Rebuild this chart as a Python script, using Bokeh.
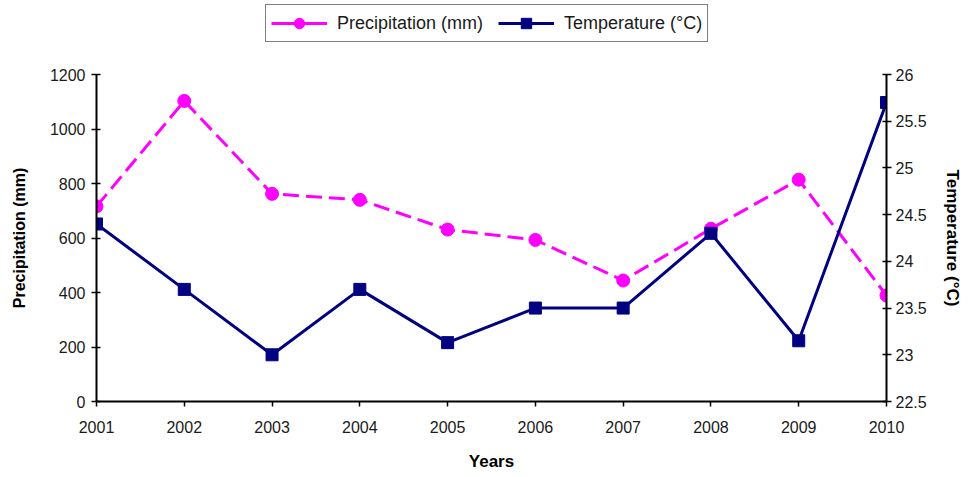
from bokeh.plotting import figure
from bokeh.layouts import column
from bokeh.models import Range1d, LinearAxis, Legend, LegendItem, FixedTicker, NumeralTickFormatter
from bokeh.embed import file_html
from bokeh.resources import INLINE

years = [2001, 2002, 2003, 2004, 2005, 2006, 2007, 2008, 2009, 2010]
precipitation = [716, 1103, 762, 740, 631, 593, 444, 634, 814, 389]
temperature = [24.4, 23.7, 23.0, 23.7, 23.13, 23.5, 23.5, 24.3, 23.15, 25.7]
precip_ticks = [0, 200, 400, 600, 800, 1000, 1200]
temp_ticks = [22.5, 23, 23.5, 24, 24.5, 25, 25.5, 26]

FONT = "Liberation Sans"
PINK = "#FF00FF"
NAVY = "#000080"

# ---------------- main chart ----------------
p = figure(frame_width=790, frame_height=327, output_backend="svg", toolbar_location=None,
           x_range=Range1d(years[0], years[-1]), y_range=Range1d(0, 1200),
           min_border_left=96, min_border_right=74, min_border_top=28, min_border_bottom=70)
p.extra_y_ranges = {"temp": Range1d(22.5, 26)}
p.outline_line_color = None
p.xgrid.grid_line_color = None
p.ygrid.grid_line_color = None
p.background_fill_color = "white"
p.border_fill_color = "white"

p.line(years, precipitation, line_color=PINK, line_width=3, line_dash="16 7")
p.scatter(years, precipitation, marker="circle", size=13, color=PINK)
p.line(years, temperature, y_range_name="temp", line_color=NAVY, line_width=3)
p.scatter(years, temperature, y_range_name="temp", marker="square", size=12, color=NAVY)

rax = LinearAxis(y_range_name="temp", ticker=FixedTicker(ticks=temp_ticks),
                 formatter=NumeralTickFormatter(format="0.[0]"))
p.add_layout(rax, "right")

p.xaxis.ticker = FixedTicker(ticks=years)
p.yaxis[0].ticker = FixedTicker(ticks=precip_ticks)

p.xaxis.axis_label = "Years"
p.yaxis[0].axis_label = "Precipitation (mm)"
rax.axis_label = "Temperature (°C)"

for ax in p.axis:
    ax.axis_line_color = "black"
    ax.axis_line_width = 2
    ax.major_tick_line_color = "black"
    ax.major_tick_line_width = 1.5
    ax.minor_tick_line_color = None
    ax.major_label_text_font = FONT
    ax.major_label_text_font_size = "16px"
    ax.major_label_text_color = "#1a1a1a"
    ax.axis_label_text_font = FONT
    ax.axis_label_text_font_style = "bold"
    ax.axis_label_text_color = "black"
    ax.major_tick_in = 4
    ax.major_tick_out = 5

p.xaxis.major_tick_in = 0
p.xaxis.major_tick_out = 5
p.xaxis.major_label_standoff = 14
p.xaxis.axis_label_standoff = 16
p.xaxis.axis_label_text_font_size = "17px"

p.yaxis[0].major_label_standoff = 6
p.yaxis[0].axis_label_standoff = 19
p.yaxis[0].axis_label_text_font_size = "16px"

rax.major_label_standoff = 4
rax.axis_label_standoff = 13
rax.axis_label_text_font_size = "17px"

# ---------------- legend strip ----------------
lf = figure(width=960, height=46, output_backend="svg", toolbar_location=None,
            x_range=Range1d(0, 1), y_range=Range1d(0, 1),
            x_axis_location=None, y_axis_location=None, min_border=0)
lf.outline_line_color = None
lf.xgrid.grid_line_color = None
lf.ygrid.grid_line_color = None
lf.background_fill_color = "white"
lf.border_fill_color = "white"

# key renderers reuse the data but lie outside this strip's view; only their legend glyphs show
kp_line = lf.line(years, precipitation, line_color=PINK, line_width=3)
kp_mark = lf.scatter(years, precipitation, marker="circle", size=13, color=PINK)
kt_line = lf.line(years, temperature, line_color=NAVY, line_width=3)
kt_mark = lf.scatter(years, temperature, marker="square", size=12, color=NAVY)

legend = Legend(items=[
    LegendItem(label="Precipitation (mm)", renderers=[kp_line, kp_mark]),
    LegendItem(label="Temperature (°C)", renderers=[kt_line, kt_mark]),
], orientation="horizontal", location=(169, 4))
legend.border_line_color = "black"
legend.border_line_width = 1.5
legend.background_fill_color = "white"
legend.background_fill_alpha = 1
legend.label_text_font = FONT
legend.label_text_font_size = "18px"
legend.label_text_color = "#1a1a1a"
legend.label_height = 26
legend.glyph_width = 56
legend.glyph_height = 26
legend.padding = 5
legend.spacing = 15
legend.label_standoff = 10
legend.margin = 0
lf.add_layout(legend, "center")

layout = column(lf, p, spacing=0)
open("out.html", "w").write(file_html(layout, INLINE))
